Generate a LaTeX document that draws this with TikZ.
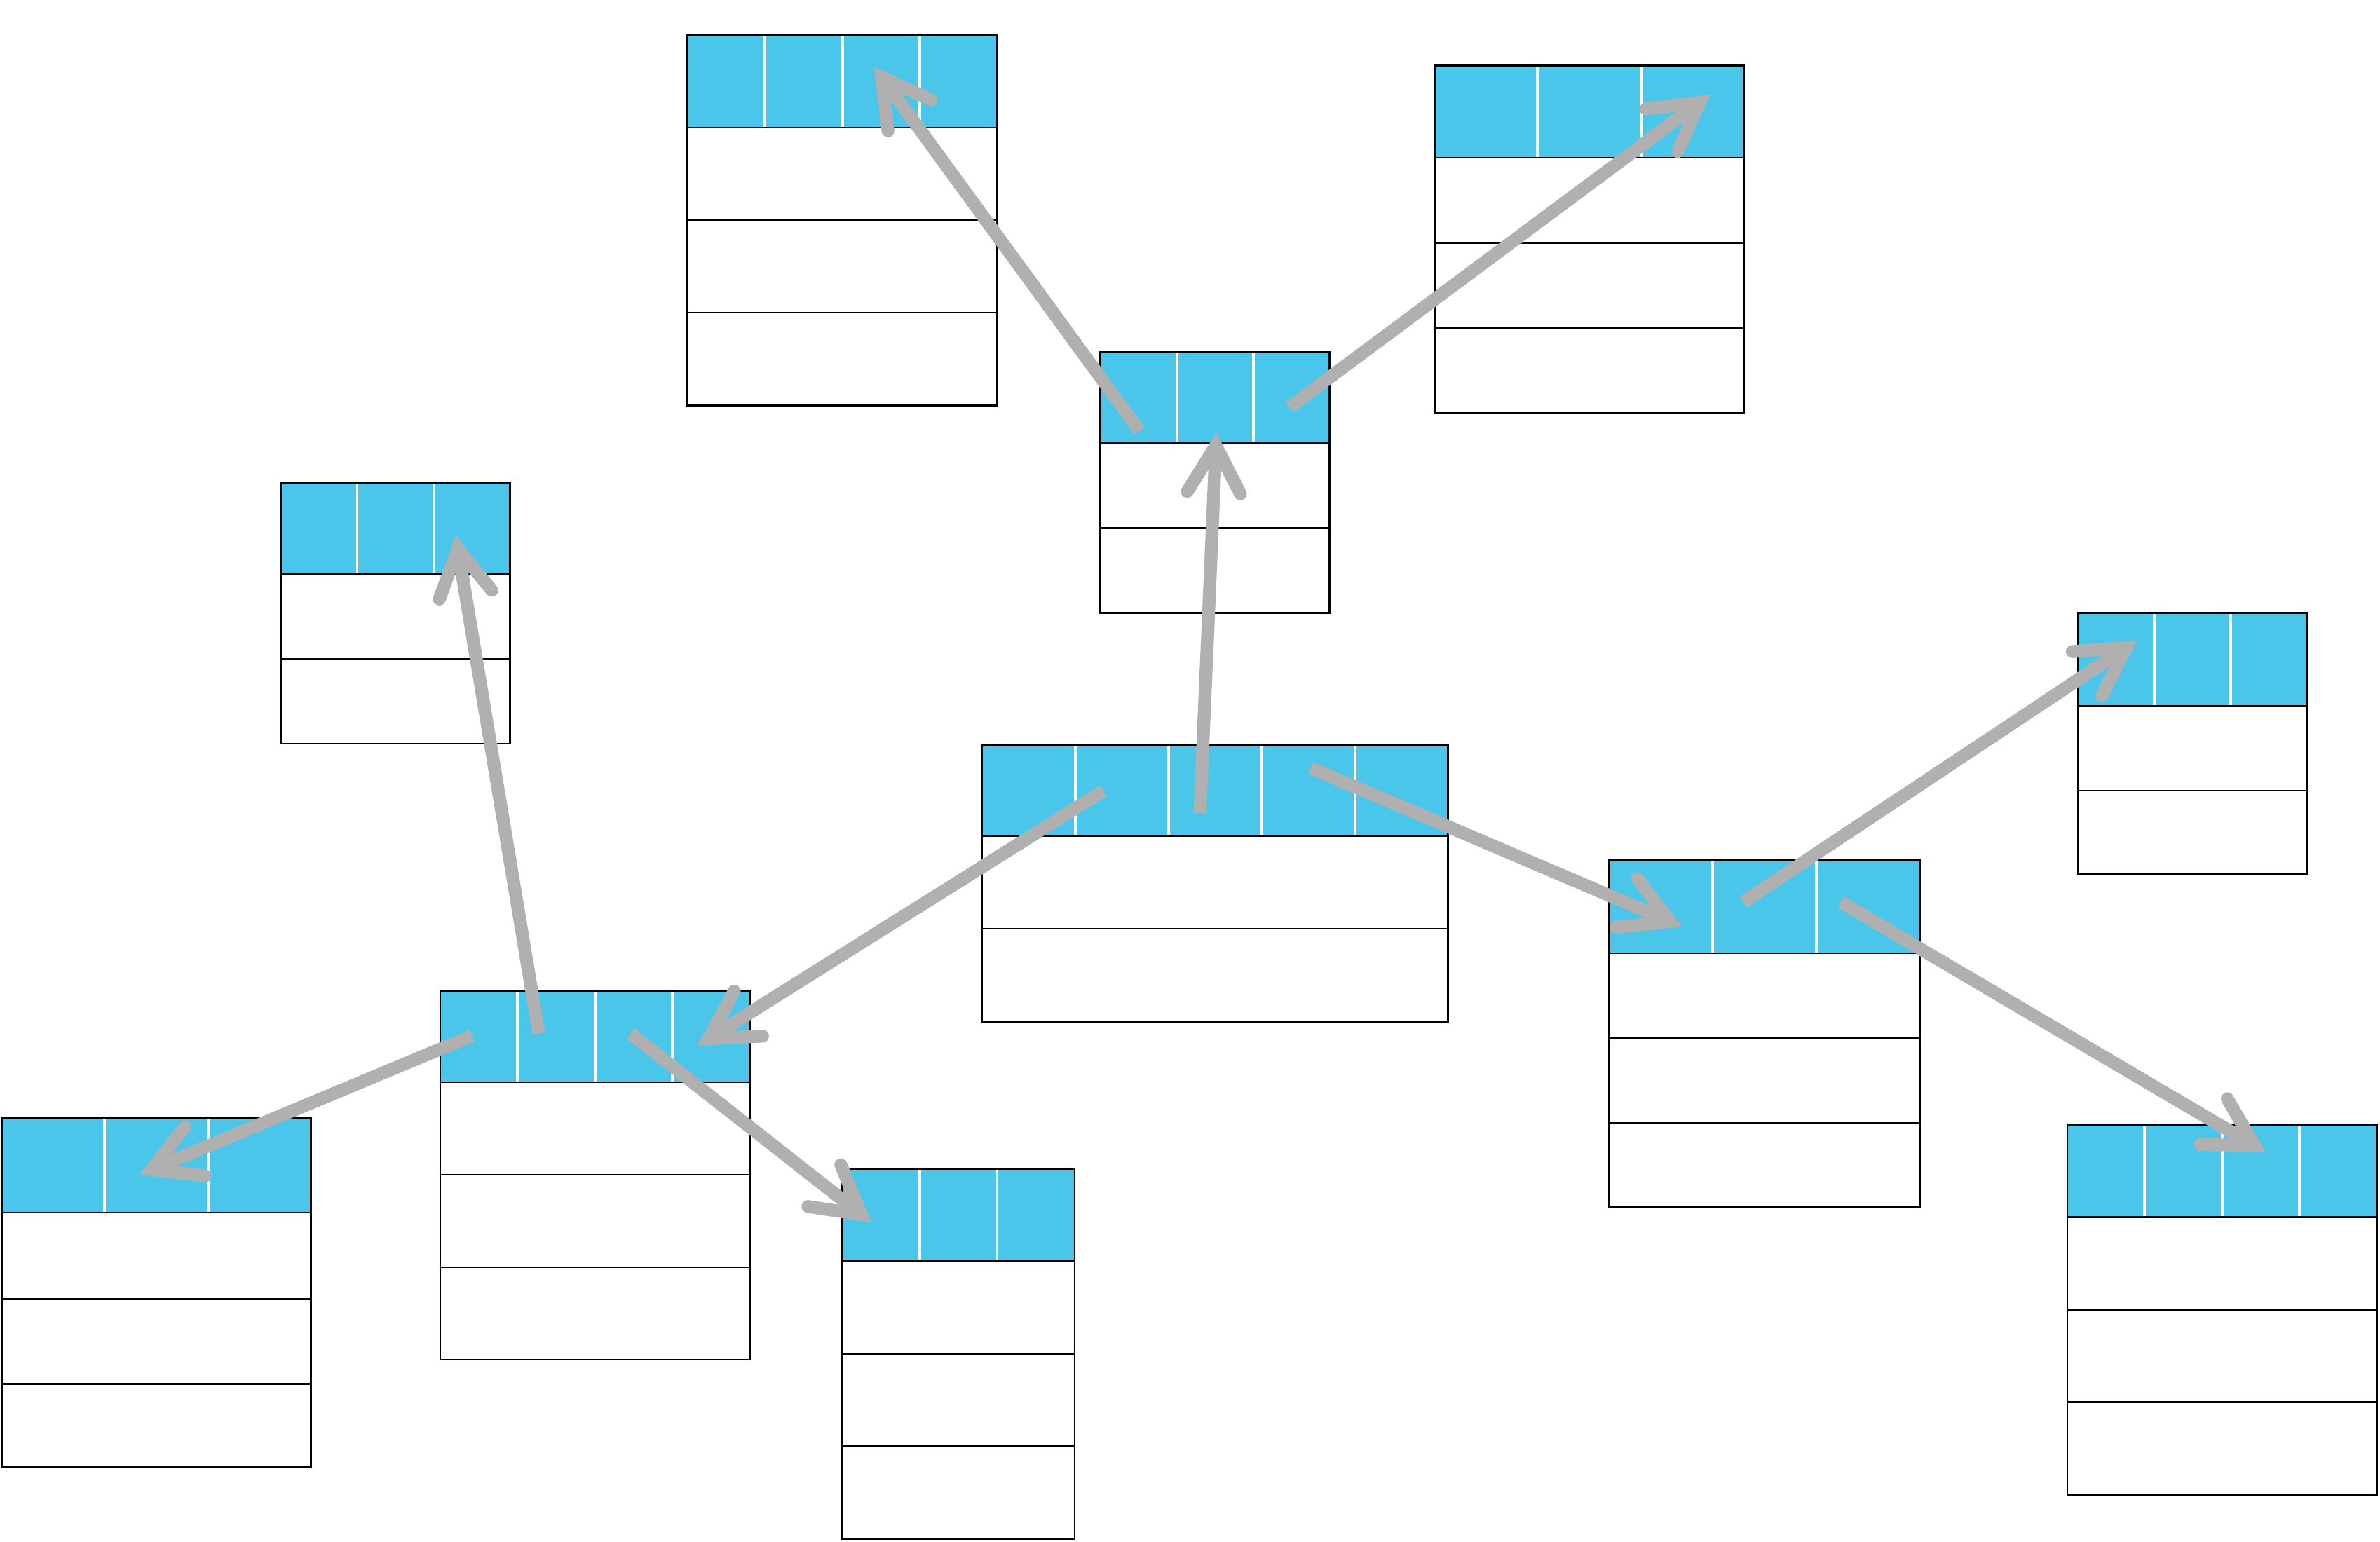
\documentclass[tikz,border=0pt]{standalone}
\usetikzlibrary{arrows.meta}
\definecolor{hdr}{HTML}{49C6EA}
\definecolor{arr}{HTML}{B0B0B0}
\tikzset{
  tblborder/.style={draw=black, line width=1.3pt, inner sep=0pt, outer sep=0pt, anchor=north west},
  rowline/.style={draw=black, line width=1.1pt},
  coldiv/.style={draw=white, line width=1.8pt},
  link/.style={draw=arr, line width=8.5pt,
    -{Straight Barb[length=31pt, width=35pt, line cap=round, line join=miter]}},
}
% #1 name, #2 x0, #3 x1, #4 ncols, #5 ytop, #6 yhead, #7 row lines, #8 ybottom
\newcommand\dbtable[8]{%
  \pgfmathsetmacro\tblW{#3-#2}%
  \pgfmathsetmacro\tblH{#8-#5}%
  \pgfmathsetmacro\tblC{(#3-#2)/#4}%
  \pgfmathtruncatemacro\tblN{#4-1}%
  \fill[hdr] (#2,#5) rectangle (#3,#6);
  \foreach \i in {1,...,\tblN} {\draw[coldiv] ({#2+\i*\tblC},#5) -- ({#2+\i*\tblC},#6);}
  \foreach \yy in {#6,#7} {\draw[rowline] (#2,\yy) -- (#3,\yy);}
  \node[tblborder, minimum width=\tblW pt, minimum height=\tblH pt] (#1) at (#2,#5) {};
}
\begin{document}
\begin{tikzpicture}[x=1pt, y=-1pt]
\useasboundingbox[fill=white] (0,0) rectangle (1568,1016);
\dbtable{t1}{453}{657}{4}{23}{84}{145,206}{267}
\dbtable{t2}{945}{1149}{3}{43}{104}{160,216}{272}
\dbtable{t3}{725}{876}{3}{232}{292}{348}{404}
\dbtable{t4}{185}{336}{3}{318}{378}{434}{490}
\dbtable{t5}{647}{954}{5}{491}{551}{612}{673}
\dbtable{t6}{1060}{1265}{3}{567}{628}{684,740}{795}
\dbtable{t7}{1369}{1520}{3}{404}{465}{521}{576}
\dbtable{t8}{290}{494}{4}{653}{713}{774,835}{896}
\dbtable{t9}{1}{205}{3}{737}{799}{856,912}{967}
\dbtable{t10}{555}{708}{3}{770}{831}{892,953}{1014}
\dbtable{t11}{1362}{1566}{4}{741}{802}{863,924}{985}

% connector end points
\coordinate (t5a) at (790.5,536);   \coordinate (t3in) at (801.4,285);
\coordinate (t5b) at (727,521);     \coordinate (t8in) at (459.5,689);
\coordinate (t5c) at (863.5,506);   \coordinate (t6in) at (1108.3,610.6);
\coordinate (t3a) at (750.7,284);   \coordinate (t1in) at (575.8,43.9);
\coordinate (t3b) at (849.7,268.3); \coordinate (t2in) at (1126.7,62.2);
\coordinate (t8a) at (355,681);     \coordinate (t4in) at (300.2,352.8);
\coordinate (t8b) at (311,682.5);   \coordinate (t9in) at (91.9,774);
\coordinate (t8c) at (415.4,681);   \coordinate (t10in) at (574.3,805.7);
\coordinate (t6a) at (1148.6,594.4); \coordinate (t7in) at (1408,422);
\coordinate (t6b) at (1212.8,594.4); \coordinate (t11in) at (1492.7,759.2);

\draw[link] (t5a) -- (t3in);
\draw[link] (t5b) -- (t8in);
\draw[link] (t5c) -- (t6in);
\draw[link] (t3a) -- (t1in);
\draw[link] (t3b) -- (t2in);
\draw[link] (t8a) -- (t4in);
\draw[link] (t8b) -- (t9in);
\draw[link] (t8c) -- (t10in);
\draw[link] (t6a) -- (t7in);
\draw[link] (t6b) -- (t11in);
\end{tikzpicture}
\end{document}
